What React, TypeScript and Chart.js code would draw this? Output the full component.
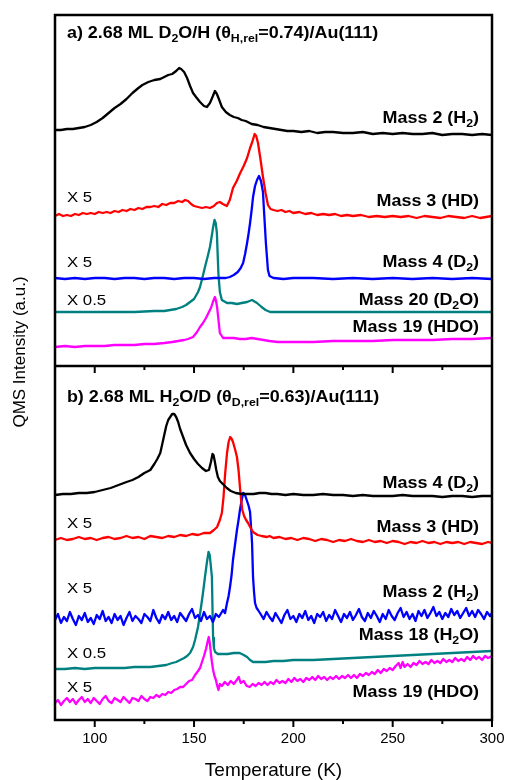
import React, { useEffect, useRef } from 'react';
import { Chart, registerables } from 'chart.js';

Chart.register(...registerables);

const FONT = '"Liberation Sans", Arial, Helvetica, sans-serif';

// x axis (temperature, K)
const T_MIN = 80;
const T_MAX = 300;
const majorTicks = [100, 150, 200, 250, 300];
const minorTicks = [125, 175, 225, 275];
// stacked intensity axis (arbitrary units); boundary between panel a (top) and b (bottom)
const Y_MIN = 0;
const Y_MAX = 705;
const PANEL_SPLIT = 354;

type Pt = [number, number];

// ---------- Panel a: 2.68 ML D2O/H / Au(111) ----------
const aMass2: Pt[] = [
  [80, 590], [83, 590], [86, 591], [89, 591], [92, 592], [95, 593], [98, 595], [101, 598], [104, 602],
  [107, 607], [110, 612], [113, 616], [116, 621], [119, 627], [122, 632], [124, 635], [127, 638],
  [130, 640], [133, 641], [135, 643], [137, 645], [139, 646], [141, 649], [142.5, 652], [143.5, 651],
  [145, 648], [146.5, 642], [148, 634], [149.5, 627], [151, 623], [153, 618], [155, 614], [156.5, 613],
  [158, 617], [159.5, 624], [160.5, 629], [161.5, 626], [162.5, 621], [164, 613], [166, 608], [168, 605],
  [170, 603], [172, 602], [174, 600], [176, 599], [179, 596], [182, 595], [185, 593], [188, 592],
  [191, 591], [194, 590], [197, 589], [200, 589], [204, 588], [208, 589], [212, 587], [216, 588],
  [220, 588], [225, 587], [230, 587], [235, 588], [240, 586], [245, 587], [250, 586], [255, 587],
  [260, 586], [265, 586], [270, 587], [275, 585], [280, 586], [285, 586], [290, 585], [295, 586], [300, 585],
];

const aMass3: Pt[] = [
  [80, 504], [82, 506], [84, 504], [86, 505], [88, 504], [90, 506], [92, 505], [94, 507], [96, 506],
  [98, 507], [100, 506], [102, 508], [104, 507], [106, 508], [108, 507], [110, 509], [112, 508],
  [114, 510], [116, 509], [118, 511], [120, 510], [122, 512], [124, 511], [126, 513], [128, 513],
  [130, 514], [132, 513], [134, 516], [136, 515], [138, 517], [140, 517], [142, 519], [144, 518],
  [145.5, 520], [147, 519], [148.5, 516], [150, 514], [152, 513], [154, 512], [156, 513], [158, 512],
  [160, 514], [161.5, 517], [163, 518], [164.5, 516], [166.5, 514], [168, 520], [169.6, 532],
  [171.5, 539], [173, 546], [175, 554], [176.7, 562], [178.2, 572], [179.3, 578], [180.5, 586],
  [181.3, 584], [182.2, 577], [183.5, 560], [184.7, 543], [186, 527], [187.2, 515], [188.5, 511],
  [190, 510], [192, 509], [194, 510], [196, 508], [198, 509], [200, 507], [203, 508], [206, 506],
  [209, 507], [212, 505], [215, 506], [218, 505], [221, 506], [224, 504], [227, 505], [230, 504],
  [234, 505], [238, 503], [242, 504], [246, 503], [250, 504], [254, 503], [258, 504], [262, 502],
  [266, 504], [270, 503], [274, 502], [278, 504], [282, 503], [286, 502], [290, 504], [294, 502],
  [297, 503], [300, 504],
];

const aMass4: Pt[] = [
  [80, 442], [85, 441], [90, 442], [95, 441], [100, 442], [105, 442], [110, 441], [115, 442],
  [120, 442], [125, 441], [130, 442], [135, 442], [140, 441], [145, 442], [150, 442], [155, 441],
  [160, 442], [164, 442], [166, 442], [168, 443], [170, 445], [172, 448], [173.5, 452], [174.7, 457],
  [175.7, 466], [176.7, 477], [177.5, 487], [178.2, 497], [179, 510], [179.7, 523], [180.7, 534],
  [181.7, 540], [182.7, 544], [183.7, 539], [184.7, 528], [185.2, 510], [185.7, 493], [186.2, 476],
  [186.7, 463], [187.2, 450], [188, 444], [190, 442], [195, 441], [200, 442], [210, 442], [220, 441],
  [230, 442], [240, 441], [250, 442], [260, 441], [270, 442], [280, 441], [290, 442], [300, 441],
];

const aMass20: Pt[] = [
  [80, 408], [90, 408], [100, 408], [110, 408], [120, 408], [130, 409], [135, 409], [138, 410],
  [141, 411], [144, 413], [146, 415], [148, 418], [150, 421], [152, 428], [153, 433], [154.3, 443],
  [155.5, 453], [156.8, 463], [158, 473], [159, 485], [159.6, 493], [160.3, 500], [160.9, 497],
  [161.5, 487], [161.9, 465], [162.3, 445], [163, 428], [164, 420], [166.6, 417], [169, 417],
  [171.6, 416], [174, 417], [176.7, 418], [179.2, 420], [181.7, 417], [184, 413], [186, 410],
  [188.3, 408], [192, 408], [200, 408], [220, 408], [240, 408], [260, 408], [280, 408], [300, 408],
];

const aMass19: Pt[] = [
  [80, 373], [85, 374], [90, 373], [95, 374], [100, 374], [105, 374], [110, 375], [115, 375],
  [120, 375], [125, 376], [130, 376], [135, 377], [139, 378], [142, 379], [145, 380], [147, 381],
  [149.5, 383], [151.5, 388], [153, 393], [154.5, 397], [156, 402], [157.5, 408], [158.5, 412],
  [159.5, 418], [160.5, 423], [161, 420], [161.6, 413], [162.3, 400], [163, 387], [164.6, 382],
  [167, 382], [170, 382], [173, 381], [176, 381], [179, 382], [182, 381], [185, 380], [188, 379],
  [192, 378], [196, 378], [200, 378], [210, 378], [220, 379], [230, 379], [240, 379], [250, 380],
  [260, 380], [270, 380], [280, 381], [290, 381], [300, 382],
];

// ---------- Panel b: 2.68 ML H2O/D / Au(111) ----------
const bMass4: Pt[] = [
  [80, 225], [84, 226], [88, 226], [92, 227], [96, 227], [100, 228], [104, 230], [108, 232],
  [112, 235], [116, 238], [119, 240], [122, 243], [125, 247], [128, 250], [130, 256], [131.5, 261],
  [133, 267], [134, 276], [135, 285], [136, 294], [137, 300], [138, 303], [139, 306], [140, 306],
  [141, 303], [142, 298], [143, 291], [144.5, 283], [146, 275], [148, 267], [150, 261], [152, 256],
  [154, 252], [156, 249], [157.5, 250], [158.5, 258], [159.3, 266], [159.8, 265], [160.5, 258],
  [161.2, 250], [162, 243], [163, 239], [164.5, 236], [166.5, 232], [168.5, 229], [171, 227],
  [174, 226], [177, 226], [180, 226], [183, 227], [186, 227], [189, 226], [192, 226], [196, 225],
  [200, 226], [205, 225], [210, 225], [215, 226], [220, 225], [225, 225], [230, 224], [235, 225],
  [240, 224], [245, 224], [250, 224], [255, 225], [260, 224], [265, 224], [270, 224], [275, 223],
  [280, 224], [285, 224], [290, 223], [295, 224], [300, 224],
];

const bMass3: Pt[] = [
  [80, 180], [83, 182], [86, 180], [89, 181], [92, 183], [95, 181], [98, 182], [101, 180], [104, 182],
  [107, 183], [110, 181], [113, 182], [116, 184], [119, 182], [122, 183], [125, 181], [128, 184],
  [131, 183], [134, 182], [137, 184], [140, 183], [143, 185], [146, 184], [149, 186], [152, 185],
  [155, 187], [158, 187], [160, 190], [161.6, 193], [163, 200], [164, 207], [164.8, 222], [165.6, 245],
  [166.6, 267], [167.4, 278], [168.2, 283], [169, 281], [169.6, 278], [170.6, 271], [171.6, 263],
  [172.4, 250], [173.1, 233], [173.7, 220], [174.3, 210], [175.2, 204], [176.2, 200], [177.2, 197],
  [178.5, 192], [179.7, 188], [182, 185], [184, 184], [186.7, 183], [188, 184], [190, 182],
  [193, 183], [196, 181], [199, 182], [202, 180], [205, 182], [208, 181], [211, 179], [214, 181],
  [217, 180], [220, 178], [223, 180], [226, 179], [229, 181], [232, 179], [235, 178], [238, 180],
  [241, 178], [244, 179], [247, 177], [250, 179], [253, 178], [256, 176], [259, 178], [262, 177],
  [265, 179], [268, 177], [271, 178], [274, 176], [277, 178], [280, 177], [283, 178], [286, 176],
  [289, 178], [292, 177], [295, 176], [298, 178], [300, 177],
];

const bMass2: Pt[] = [
  [80, 100], [81.5, 106], [83, 97], [84.5, 103], [86, 99], [87.5, 108], [89, 101], [90.5, 95],
  [92, 104], [93.5, 100], [95, 107], [96.5, 98], [98, 102], [99.5, 96], [101, 105], [102.5, 101],
  [104, 109], [105.5, 99], [107, 103], [108.5, 97], [110, 106], [111.5, 100], [113, 104], [114.5, 95],
  [116, 102], [117.5, 108], [119, 99], [120.5, 104], [122, 101], [123.5, 97], [125, 106], [126.5, 103],
  [128, 99], [129.5, 110], [131, 102], [132.5, 97], [134, 105], [135.5, 101], [137, 108], [138.5, 100],
  [140, 104], [141.5, 98], [143, 107], [144.5, 103], [146, 99], [147.5, 106], [149, 111], [150.5, 102],
  [152, 105], [153.5, 99], [155, 108], [156.5, 101], [158, 104], [159.5, 98], [161, 106], [162.5, 103],
  [164.6, 110], [165.6, 107], [166.6, 117], [167.4, 124], [168.1, 133], [168.9, 145], [169.6, 160],
  [170.6, 175], [171.6, 190], [172.4, 200], [173.1, 210], [174, 220], [174.7, 227], [175.5, 226],
  [176.5, 220], [177.5, 214], [178.2, 208], [178.8, 190], [179.2, 177], [179.7, 143], [180.2, 128],
  [180.7, 117], [181.5, 112], [182.2, 110], [183.5, 106], [185, 101], [186.5, 108], [188, 103],
  [189.5, 99], [191, 107], [192.5, 102], [194, 97], [195.5, 105], [197, 110], [198.5, 101], [200, 104],
  [201.5, 98], [203, 106], [204.5, 102], [206, 109], [207.5, 100], [209, 104], [210.5, 97], [212, 106],
  [213.5, 103], [215, 108], [216.5, 99], [218, 105], [219.5, 101], [221, 110], [222.5, 104], [224, 98],
  [225.5, 106], [227, 102], [228.5, 108], [230, 100], [231.5, 105], [233, 111], [234.5, 103], [236, 99],
  [237.5, 107], [239, 102], [240.5, 109], [242, 104], [243.5, 98], [245, 106], [246.5, 101], [248, 110],
  [249.5, 104], [251, 100], [252.5, 107], [254, 112], [255.5, 103], [257, 108], [258.5, 101], [260, 106],
  [261.5, 99], [263, 109], [264.5, 104], [266, 110], [267.5, 102], [269, 107], [270.5, 113], [272, 104],
  [273.5, 108], [275, 101], [276.5, 107], [278, 103], [279.5, 111], [281, 105], [282.5, 109], [284, 102],
  [285.5, 107], [287, 112], [288.5, 104], [290, 109], [291.5, 103], [293, 110], [294.5, 106], [296, 101],
  [297.5, 108], [299, 104], [300, 107],
];

const bMass18: Pt[] = [
  [80, 51], [85, 51], [90, 52], [95, 51], [100, 52], [105, 52], [110, 52], [115, 52], [120, 53],
  [125, 53], [128, 53], [132, 54], [136, 55], [139, 57], [141, 58], [143, 60], [145, 62], [146.5, 64],
  [148, 67], [149.5, 73], [150.5, 80], [152, 93], [153.3, 110], [154.5, 127], [155.5, 143],
  [156.5, 158], [157.3, 168], [157.9, 165], [158.4, 155], [159, 143], [159.3, 110], [159.6, 82],
  [160, 72], [160.6, 68], [162, 66], [164.6, 66], [167, 66], [170, 67], [173, 67], [175, 65],
  [176.7, 63], [178.2, 60], [179.7, 58], [183, 58], [186, 58], [190, 59], [195, 59], [200, 60],
  [210, 60], [220, 61], [230, 62], [240, 63], [250, 64], [260, 65], [270, 66], [280, 67], [290, 68],
  [300, 69],
];

const bMass19: Pt[] = [
  [80, 17], [81.5, 20], [83, 15], [84.5, 19], [86, 22], [87.5, 18], [89, 21], [90.5, 16], [92, 20],
  [93.5, 23], [95, 18], [96.5, 21], [98, 17], [99.5, 22], [101, 19], [102.5, 16], [104, 21], [105.5, 24],
  [107, 19], [108.5, 17], [110, 22], [111.5, 20], [113, 18], [114.5, 23], [116, 20], [117.5, 17],
  [119, 22], [120.5, 21], [122, 19], [123.5, 24], [125, 21], [126.5, 19], [128, 23], [129.5, 22],
  [131, 25], [132.5, 23], [134, 26], [135.5, 25], [137, 28], [138.5, 27], [140, 30], [141.5, 31],
  [143, 33], [144.5, 33], [146, 36], [147.5, 39], [149, 40], [150.5, 45], [152, 49], [153, 52],
  [154, 58], [155, 64], [156, 71], [156.8, 78], [157.4, 83], [158, 76], [158.5, 66], [159, 58],
  [159.6, 50], [160.3, 44], [161, 40], [161.7, 34], [162.3, 30], [163, 36], [164, 34], [165.5, 38],
  [167, 35], [168.5, 39], [170, 36], [171.5, 40], [172.5, 43], [173.5, 37], [175, 39], [176.5, 34],
  [178, 33], [179.5, 36], [181, 34], [182.5, 37], [184, 35], [185.5, 38], [187, 35], [188.5, 38],
  [190, 36], [191.5, 40], [193, 37], [194.5, 39], [196, 37], [197.5, 41], [199, 38], [200.5, 42],
  [202, 39], [203.5, 41], [205, 38], [206.5, 42], [208, 40], [209.5, 43], [211, 40], [212.5, 44],
  [214, 41], [215.5, 43], [217, 40], [218.5, 43], [220, 41], [221.5, 44], [223, 41], [224.5, 44],
  [226, 42], [227.5, 45], [229, 42], [230.5, 45], [232, 42], [233.5, 46], [235, 44], [236.5, 47],
  [238, 45], [239.5, 48], [241, 46], [242.5, 50], [244, 47], [245.5, 51], [247, 49], [248.5, 52],
  [250, 50], [251.5, 54], [253, 57], [254, 52], [255, 58], [256, 53], [257.5, 56], [259, 53],
  [260.5, 57], [262, 55], [263.5, 59], [265, 56], [266.5, 58], [268, 56], [269.5, 60], [271, 57],
  [272.5, 59], [274, 57], [275.5, 61], [277, 58], [278.5, 60], [280, 58], [281.5, 62], [283, 59],
  [284.5, 61], [286, 59], [287.5, 63], [289, 60], [290.5, 64], [292, 61], [293.5, 63], [295, 60],
  [296.5, 64], [298, 62], [300, 64],
];

// ---------- styling of the traces ----------
const BLACK = '#000000';
const RED = '#ff0000';
const BLUE = '#0000ff';
const TEAL = '#008080';
const MAGENTA = '#ff00ff';

const traces: { data: Pt[]; color: string }[] = [
  { data: aMass2, color: BLACK },
  { data: aMass3, color: RED },
  { data: aMass4, color: BLUE },
  { data: aMass20, color: TEAL },
  { data: aMass19, color: MAGENTA },
  { data: bMass4, color: BLACK },
  { data: bMass3, color: RED },
  { data: bMass2, color: BLUE },
  { data: bMass18, color: TEAL },
  { data: bMass19, color: MAGENTA },
];

// ---------- text annotations (segments: [text, isSubscript]) ----------
type Seg = [string, boolean];
const panelTitles: { segs: Seg[]; t: number; v: number }[] = [
  { segs: [['a) 2.68 ML D', false], ['2', true], ['O/H (\u03b8', false], ['H,rel', true], ['=0.74)/Au(111)', false]], t: 86, v: 682 },
  { segs: [['b) 2.68 ML H', false], ['2', true], ['O/D (\u03b8', false], ['D,rel', true], ['=0.63)/Au(111)', false]], t: 86, v: 318 },
];
const massLabels: { segs: Seg[]; v: number }[] = [
  { segs: [['Mass 2 (H', false], ['2', true], [')', false]], v: 597 },
  { segs: [['Mass 3 (HD)', false]], v: 514 },
  { segs: [['Mass 4 (D', false], ['2', true], [')', false]], v: 453 },
  { segs: [['Mass 20 (D', false], ['2', true], ['O)', false]], v: 415 },
  { segs: [['Mass 19 (HDO)', false]], v: 388 },
  { segs: [['Mass 4 (D', false], ['2', true], [')', false]], v: 232 },
  { segs: [['Mass 3 (HD)', false]], v: 188 },
  { segs: [['Mass 2 (H', false], ['2', true], [')', false]], v: 123 },
  { segs: [['Mass 18 (H', false], ['2', true], ['O)', false]], v: 80 },
  { segs: [['Mass 19 (HDO)', false]], v: 23 },
];
const MASS_LABEL_T = 293.5;
const factorLabels: { text: string; v: number }[] = [
  { text: 'X 5', v: 518 },
  { text: 'X 5', v: 453 },
  { text: 'X 0.5', v: 415 },
  { text: 'X 5', v: 192 },
  { text: 'X 5', v: 127 },
  { text: 'X 0.5', v: 62 },
  { text: 'X 5', v: 28 },
];
const FACTOR_LABEL_T = 86;
const Y_TITLE = 'QMS Intensity (a.u.)';
const X_TITLE = 'Temperature (K)';

const SX = 1.12; // horizontal stretch of the lettering in the original figure

function drawRich(
  ctx: CanvasRenderingContext2D,
  segs: Seg[],
  x: number,
  y: number,
  align: 'left' | 'right',
  size: number,
  weight: string
) {
  ctx.save();
  ctx.translate(x, y);
  ctx.scale(SX, 1);
  ctx.textBaseline = 'alphabetic';
  ctx.textAlign = 'left';
  ctx.fillStyle = '#000';
  const fontFor = (sub: boolean) => `${weight} ${sub ? Math.round(size * 0.66) : size}px ${FONT}`;
  let total = 0;
  for (const [t, sub] of segs) {
    ctx.font = fontFor(sub);
    total += ctx.measureText(t).width;
  }
  let cx = align === 'right' ? -total : 0;
  for (const [t, sub] of segs) {
    ctx.font = fontFor(sub);
    ctx.fillText(t, cx, sub ? size * 0.27 : 0);
    cx += ctx.measureText(t).width;
  }
  ctx.restore();
}

const decorPlugin = {
  id: 'decor',
  afterDatasetsDraw(chart: any) {
    const { ctx, chartArea: a, scales } = chart;
    const xs = scales.x;
    const ys = scales.y;
    const splitY = ys.getPixelForValue(PANEL_SPLIT);
    ctx.save();
    ctx.strokeStyle = '#000';
    ctx.lineWidth = 2.5;
    ctx.strokeRect(a.left, a.top, a.right - a.left, a.bottom - a.top);
    ctx.beginPath();
    ctx.moveTo(a.left, splitY);
    ctx.lineTo(a.right, splitY);
    ctx.stroke();
    ctx.lineWidth = 2;
    const tick = (v: number, len: number) => {
      const px = xs.getPixelForValue(v);
      for (const base of [splitY, a.bottom]) {
        ctx.beginPath();
        ctx.moveTo(px, base);
        ctx.lineTo(px, base + len);
        ctx.stroke();
      }
    };
    majorTicks.forEach((v) => tick(v, 7));
    minorTicks.forEach((v) => tick(v, 4));

    for (const p of panelTitles) {
      drawRich(ctx, p.segs, xs.getPixelForValue(p.t), ys.getPixelForValue(p.v), 'left', 16, 'bold');
    }
    for (const m of massLabels) {
      drawRich(ctx, m.segs, xs.getPixelForValue(MASS_LABEL_T), ys.getPixelForValue(m.v), 'right', 16, 'bold');
    }
    for (const f of factorLabels) {
      drawRich(ctx, [[f.text, false]], xs.getPixelForValue(FACTOR_LABEL_T), ys.getPixelForValue(f.v), 'left', 15, 'normal');
    }
    // y axis title
    ctx.save();
    ctx.translate(20, 352);
    ctx.rotate(-Math.PI / 2);
    ctx.font = `normal 17px ${FONT}`;
    ctx.fillStyle = '#000';
    ctx.textAlign = 'center';
    ctx.textBaseline = 'middle';
    ctx.fillText(Y_TITLE, 0, 0);
    ctx.restore();
    ctx.restore();
  },
};

export default function App() {
  const ref = useRef<HTMLCanvasElement | null>(null);
  useEffect(() => {
    const canvas = ref.current;
    if (!canvas) return;
    const chart = new Chart(canvas, {
      type: 'line',
      data: {
        datasets: traces.map((s) => ({
          data: s.data.map(([x, y]) => ({ x, y })),
          borderColor: s.color,
          borderWidth: 2.3,
          pointRadius: 0,
          fill: false,
          tension: 0,
          borderJoinStyle: 'round' as const,
          borderCapStyle: 'round' as const,
        })),
      },
      options: {
        animation: false,
        responsive: false,
        maintainAspectRatio: false,
        layout: { padding: { left: 55, right: 14, top: 15, bottom: 0 } },
        plugins: { legend: { display: false }, tooltip: { enabled: false }, title: { display: false } },
        scales: {
          x: {
            type: 'linear',
            min: T_MIN,
            max: T_MAX,
            afterBuildTicks: (axis: any) => {
              axis.ticks = majorTicks.map((value) => ({ value }));
            },
            afterFit: (axis: any) => {
              axis.height = 60;
              axis.paddingLeft = 0;
              axis.paddingRight = 0;
            },
            grid: { display: false, drawTicks: false },
            border: { display: false },
            ticks: {
              color: '#000',
              padding: 10,
              maxRotation: 0,
              autoSkip: false,
              font: { family: FONT, size: 15 },
            },
            title: {
              display: true,
              text: X_TITLE,
              color: '#000',
              padding: 0,
              font: { family: FONT, size: 19, lineHeight: 1 },
            },
          },
          y: { type: 'linear', min: Y_MIN, max: Y_MAX, display: false },
        },
      },
      plugins: [decorPlugin],
    });
    return () => chart.destroy();
  }, []);
  return (
    <div style={{ position: 'absolute', left: 0, top: 0, width: 506, height: 780, background: '#fff' }}>
      <canvas ref={ref} width={506} height={780} style={{ display: 'block' }} />
    </div>
  );
}
